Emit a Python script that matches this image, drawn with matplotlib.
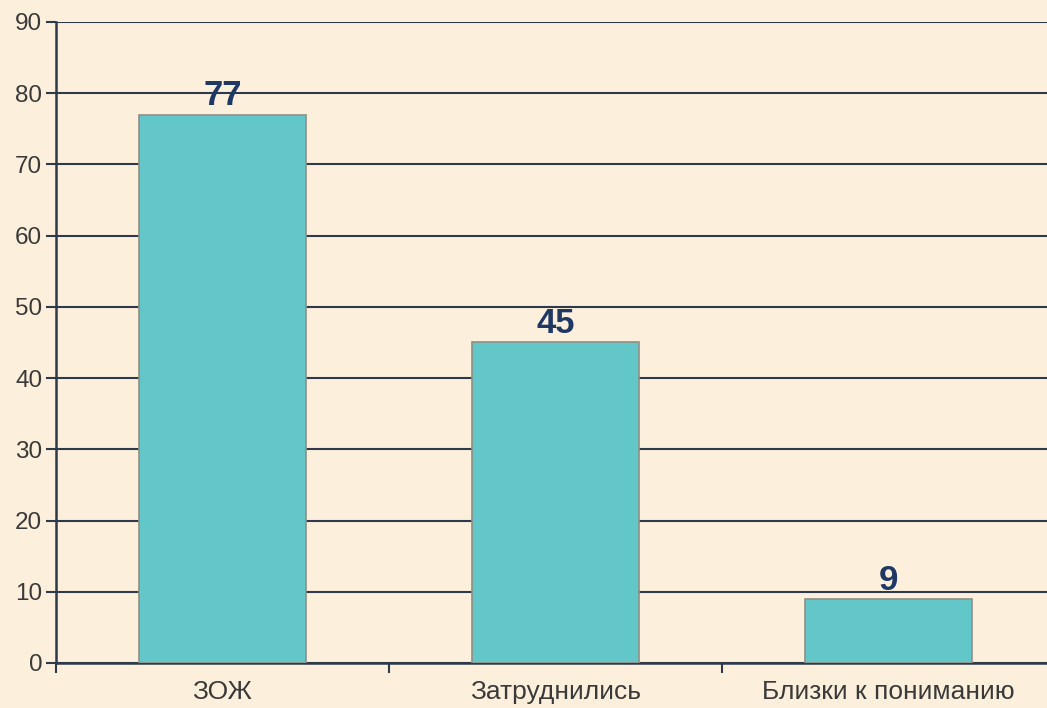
import matplotlib.pyplot as plt
import numpy as np

# data
categories = ['ЗОЖ', 'Затруднились', 'Близки к пониманию']
values = [77, 45, 9]

bg = '#fcf0dc'
plt.rcParams['font.family'] = ['Liberation Sans', 'DejaVu Sans']

fig = plt.figure(figsize=(10.47, 7.08), dpi=100, facecolor=bg)
ax = fig.add_axes([0.0535, 0.0636, 0.954, 0.9054], facecolor=bg)

x = np.arange(len(categories))
bars = ax.bar(x, values, width=0.5, color='#63c6c8', edgecolor='#8f8f86', linewidth=1.2, zorder=3)

for b, v in zip(bars, values):
    ax.text(b.get_x() + b.get_width() / 2, v + 0.3, str(v), ha='center', va='bottom',
            fontsize=25, fontweight='bold', color='#1f3864', zorder=4)

ax.set_xlim(-0.5, len(categories) - 0.5)
ax.set_ylim(0, 90)
ax.set_yticks(range(0, 91, 10))
ax.yaxis.grid(True, color='#2e3a4c', linewidth=1.5, zorder=1)

# category labels centred, tick marks between categories
ax.set_xticks(x)
ax.set_xticklabels(categories, fontsize=19, color='#3a3a3a')
ax.tick_params(axis='x', length=0, pad=12)
ax.set_xticks(np.arange(len(categories) + 1) - 0.5, minor=True)
ax.tick_params(axis='x', which='minor', length=7, width=1.5, color='#2e3a4c', direction='out')
ax.tick_params(axis='y', length=7, width=1.5, color='#2e3a4c', labelsize=17.5, labelcolor='#3a3a3a', pad=3)

for s in ['top', 'right']:
    ax.spines[s].set_visible(False)
ax.spines['left'].set_color('#2e3a4c')
ax.spines['left'].set_linewidth(1.8)
ax.spines['bottom'].set_color('#2e3a4c')
ax.spines['bottom'].set_linewidth(1.8)

fig.savefig('out.png', dpi=100, facecolor=bg)
